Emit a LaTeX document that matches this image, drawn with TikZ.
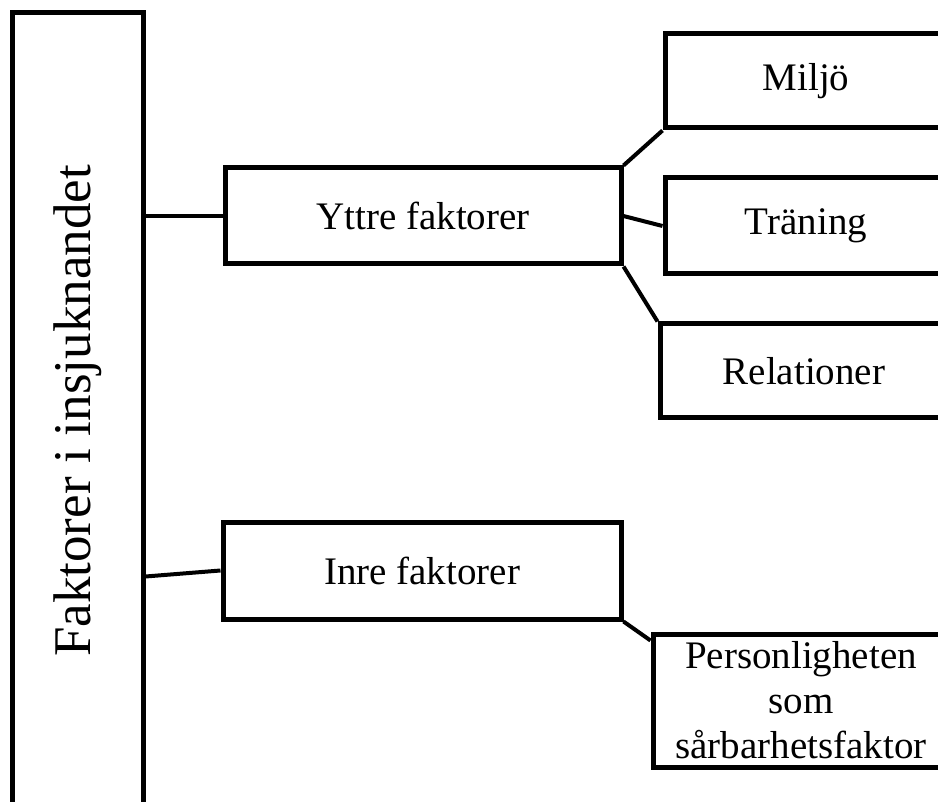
\documentclass[tikz,border=0pt]{standalone}
\usepackage{fontspec}
\setmainfont{Liberation Serif}
\usetikzlibrary{positioning,calc}
\tikzstyle{factorbox}=[draw,line width=2.5pt,inner sep=0pt,align=center,font=\fontsize{19.5}{22.5}\selectfont]
\tikzstyle{rootbox}=[draw,line width=2.5pt,inner sep=0pt,rotate=90,font=\fontsize{26.5}{30}\selectfont]
\tikzstyle{link}=[line width=2pt]

\begin{document}
\begin{tikzpicture}[x=0.5pt,y=-0.5pt]
		\useasboundingbox (0,0) rectangle (938,802);
		\clip (0,0) rectangle (938,802);
		\node [rootbox,minimum width=398pt,minimum height=65.5pt] (main) at (77.5,411) {Faktorer i insjuknandet};
		
		\node [factorbox,minimum width=198pt,minimum height=48pt] (yttre) at (423,216) {Yttre faktorer};
		\node [factorbox,minimum width=199pt,minimum height=48.5pt] (inre) at (422,570.5) {Inre faktorer};
		
		\node [factorbox,minimum width=141pt,minimum height=47pt] (miljo) at (806,81) {Miljö};
		\node [factorbox,minimum width=141pt,minimum height=48pt] (traning) at (806,226) {Träning};
		\node [factorbox,minimum width=144pt,minimum height=47pt] (relationer) at (804,371) {Relationer};
		\node [factorbox,minimum width=148pt,minimum height=66.5pt] (person) at (801,700.5) {Personligheten\\som\\sårbarhetsfaktor};
		
		\draw [link] (main.south |- yttre.west) -- (yttre.west);
		\draw [link] ($(main.south |- inre.west)+(0,-3pt)$) -- (inre.west);
		\draw [link] (yttre.north east) -- (miljo.south west);
		\draw [link] (yttre.east) -- (traning.west);
		\draw [link] (yttre.south east) -- (relationer.north west);
		\draw [link] (inre.south east) -- ([yshift=-4.5pt]person.north west);
		\end{tikzpicture}
\end{document}
